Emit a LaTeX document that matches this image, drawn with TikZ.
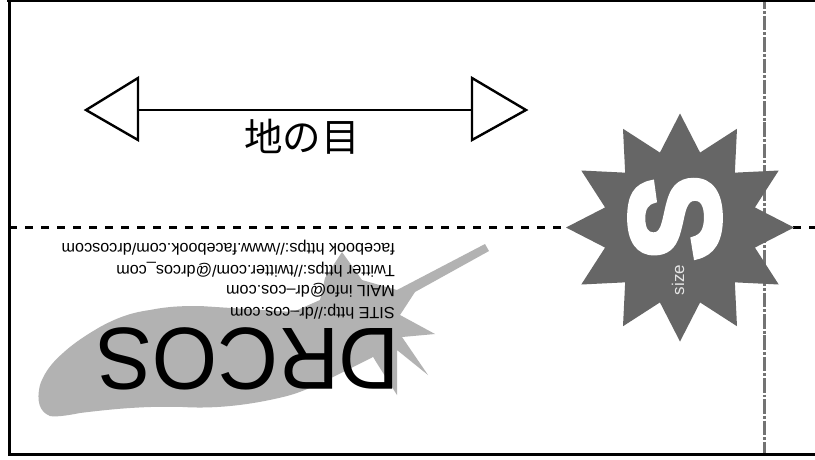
\documentclass[tikz,border=0pt]{standalone}
\usepackage{fontspec}
\usetikzlibrary{shapes.geometric}
\setmainfont{Liberation Sans}
\newfontfamily\cjk{Noto Sans CJK JP}
\newfontfamily\heavyS[BoldFeatures={FakeBold=4}]{Liberation Sans}
\tikzset{
  frameline/.style={draw=black,line width=3pt},
  foldline/.style={draw=black,line width=3pt,dash pattern=on 8pt off 8pt},
  centreline/.style={draw=black!55,line width=3pt,dash pattern=on 14.5pt off 2pt on 2.9pt off 1.9pt,dash phase=5.4pt},
  grainhead/.style={draw=black,line width=2.4pt,fill=white,line join=miter},
  grainshaft/.style={draw=black,line width=2.4pt},
  infotext/.style={font=\fontsize{16.2}{18}\selectfont,anchor=west,rotate=180,inner sep=0pt},
  burst/.style={shape=star,star points=12,star point ratio=1.47,minimum size=228pt,inner sep=0pt,fill=black!60,draw=none}
}
\begin{document}
\begin{tikzpicture}[x=1pt,y=-1pt]
\useasboundingbox (0,0) rectangle (815,459);
\fill[white] (0,0) rectangle (815,459);
\coordinate (cTop) at (764.5,0);
\coordinate (cBot) at (764.5,455);
\draw[centreline] (cTop) -- (cBot);
\draw[frameline,line width=2.4pt] (7,0.6) -- (815,0.6);
\draw[frameline] (9,0) -- (9,454.2) -- (815,454.2);
\coordinate (foldL) at (9,227);
\coordinate (foldR) at (815,227);
\draw[foldline] (foldL) -- (foldR);
% leaf
\fill[black!30] (485,244) -- (489,251) -- (415,292) -- (400,315) -- (435,334) -- (402,337) -- (428,375) -- (397,350) -- (397,395) -- (373,357) -- (333,377) .. controls (315,386) and (300,393) .. (283,397) .. controls (250,405) and (215,409) .. (183,407) .. controls (150,406) and (120,408) .. (80,413) .. controls (65,416) and (55,417) .. (50,416) .. controls (40,412) and (36,402) .. (40,385) .. controls (45,370) and (55,360) .. (63,353) .. controls (75,342) and (88,334) .. (100,327) .. controls (120,316) and (135,312) .. (150,310) .. controls (170,306) and (185,306) .. (200,306) -- (293,312) -- (320,300) -- (325,278) -- (342,252) -- (362,280) -- (397,290) -- cycle;
\fill[white] (361,373) -- (373,357) -- (387,385) -- cycle;
% star
\node[burst] (starN) at (680,227.5) {};
\node[rotate=90,text=white,inner sep=0pt,font=\heavyS\fontsize{128}{128}\selectfont\bfseries] (sizeS) at (675,218) {S};
\node[rotate=90,text=black!10,inner sep=0pt,font=\fontsize{17}{17}\selectfont] (sizeW) at (678,280) {size};
% grain arrow
\coordinate (gL) at (138,110);
\coordinate (gR) at (472,110);
\draw[grainshaft] (gL) -- (gR);
\draw[grainhead] (86,110) -- (138,78) -- (138,140) -- cycle;
\draw[grainhead] (526,110) -- (472,78) -- (472,140) -- cycle;
\node[inner sep=0pt,font=\cjk\fontsize{38.5}{38.5}\selectfont] (grainT) at (302,136.5) {地の目};
% texts
\node[infotext] (t1) at (395,312) {SITE http://dr–cos.com};
\node[infotext] (t2) at (395,290) {MAIL info@dr–cos.com};
\node[infotext] (t3) at (395,270) {Twitter https://twitter.com/@drcos\_com};
\node[infotext] (t4) at (395,248) {facebook https://www.facebook.com/drcoscom};
\node[transform shape,yscale=1.05,rotate=180,inner sep=0pt,font=\fontsize{84}{84}\selectfont] (logo) at (248,358.5) {DRCOS};
\end{tikzpicture}
\end{document}
